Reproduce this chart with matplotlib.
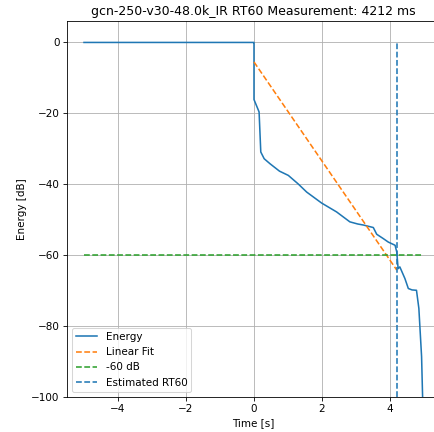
import numpy as np
import matplotlib
matplotlib.use('Agg')
import matplotlib.pyplot as plt

# energy decay curve
t_energy = [-5.0, -0.001, 0.0, 0.0, 0.15, 0.2, 0.3, 0.47, 0.75, 1.01, 1.3, 1.55, 1.99, 2.43, 2.82,
            3.05, 3.22, 3.51, 3.61, 3.8, 3.95, 4.15, 4.2, 4.22, 4.24, 4.29, 4.44, 4.54, 4.65,
            4.78, 4.85, 4.93, 4.96]
e_energy = [0.0, 0.0, 0.0, -16.1, -19.6, -30.9, -32.8, -34.2, -36.3, -37.5, -39.9, -42.2, -45.3,
            -47.8, -50.6, -51.2, -51.5, -52.2, -54.1, -55.3, -56.3, -57.2, -59.1, -61.5, -63.8,
            -63.3, -66.6, -69.4, -69.8, -69.9, -75.0, -88.6, -100.0]

# linear fit
fit_t = [0.0, 4.2]
fit_db = [-5.5, -64.2]

rt60 = 4.212

# rendered at 75 dpi so text/lines come out at the reference's smaller scale
fig = plt.figure(figsize=(434 / 75, 432 / 75), dpi=75)
ax = fig.add_axes([0.1544, 0.081, 0.8585, 0.870])

ax.plot(t_energy, e_energy, label='Energy')
ax.plot(fit_t, fit_db, '--', label='Linear Fit')
ax.plot([-5.0, 4.97], [-60, -60], '--', label='-60 dB')
ax.vlines(rt60, -100, 0, linestyles='--', label='Estimated RT60')

ax.set_xlim(-5.5, 5.46)
ax.set_ylim(-100, 6)
ax.set_xticks([-4, -2, 0, 2, 4])
ax.set_title('gcn-250-v30-48.0k_IR RT60 Measurement: 4212 ms')
ax.set_xlabel('Time [s]')
ax.set_ylabel('Energy [dB]')
ax.grid(True)
ax.legend(loc='lower left')

fig.savefig('out.png', dpi=75)
